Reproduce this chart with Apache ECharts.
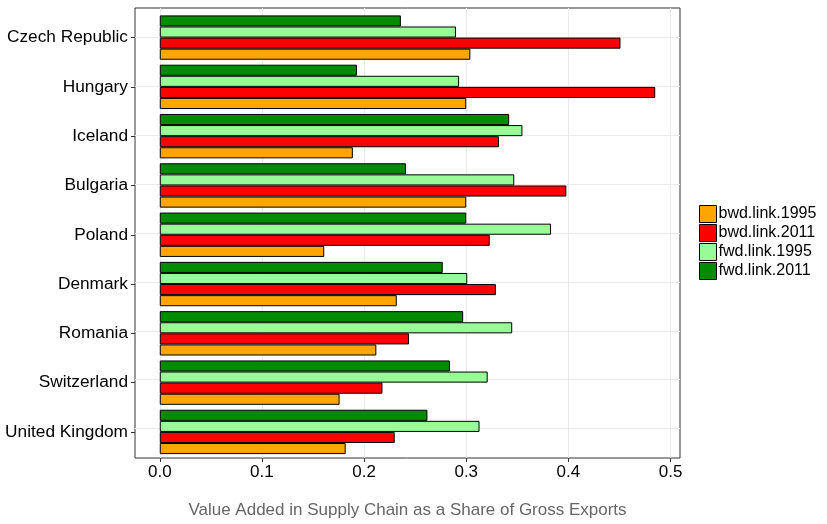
<!DOCTYPE html>
<html>
<head>
<meta charset="utf-8">
<script src="https://cdn.jsdelivr.net/npm/echarts@6/dist/echarts.min.js"></script>
<style>
html,body{margin:0;padding:0;background:#fff;}
#chart{width:827px;height:524px;}
</style>
</head>
<body>
<div id="chart"></div>
<script>
const categories = ['Czech Republic','Hungary','Iceland','Bulgaria','Poland','Denmark','Romania','Switzerland','United Kingdom'];
const bwd1995 = [0.304,0.300,0.189,0.300,0.161,0.232,0.212,0.176,0.182];
const bwd2011 = [0.451,0.485,0.332,0.398,0.323,0.329,0.244,0.218,0.230];
const fwd1995 = [0.290,0.293,0.355,0.347,0.383,0.301,0.345,0.321,0.313];
const fwd2011 = [0.236,0.193,0.342,0.241,0.300,0.277,0.297,0.284,0.262];
const seriesNames = ['bwd.link.1995','bwd.link.2011','fwd.link.1995','fwd.link.2011'];
const xTicks = [0,0.1,0.2,0.3,0.4,0.5];
const xTitle = 'Value Added in Supply Chain as a Share of Gross Exports';

const colors = {'bwd.link.1995':'#FFA500','bwd.link.2011':'#FF0000','fwd.link.1995':'#98FB98','fwd.link.2011':'#008B00'};
const seriesData = {'bwd.link.1995':bwd1995,'bwd.link.2011':bwd2011,'fwd.link.1995':fwd1995,'fwd.link.2011':fwd2011};

const allVals = bwd1995.concat(bwd2011, fwd1995, fwd2011);
const dmax = Math.max.apply(null, allVals);
const xmin = -0.05 * dmax, xmax = dmax * 1.05;
const nCat = categories.length;
const yCenters = categories.map((c,i)=> i + 0.6);

const panel = {left:135, right:147, top:8, bottom:62.5};
const plotH = 524 - panel.top - panel.bottom;
const band = plotH / (nCat + 0.2);

const chart = echarts.init(document.getElementById('chart'));
const font = 'Liberation Sans, Arial, sans-serif';

// drawn top-to-bottom within each group: fwd.2011, fwd.1995, bwd.2011, bwd.1995
const drawOrder = seriesNames.slice().reverse();
const series = drawOrder.map(n => ({
  name: n,
  type: 'bar',
  xAxisIndex: 1,
  yAxisIndex: 1,
  data: seriesData[n],
  barWidth: '22.5%',
  barGap: '0%',
  itemStyle: {color: colors[n], borderColor: '#000', borderWidth: 1},
  emphasis: {disabled: true},
  animation: false
}));

chart.setOption({
  animation: false,
  textStyle: {fontFamily: font},
  grid: [
    {left: panel.left, right: panel.right, top: panel.top, bottom: panel.bottom, show: true, borderColor: '#333', borderWidth: 1, backgroundColor: '#fff', containLabel: false},
    {left: panel.left, right: panel.right, top: panel.top + 0.1*band, bottom: panel.bottom + 0.1*band, containLabel: false}
  ],
  xAxis: [
    {type: 'value', gridIndex: 0, min: xmin, max: xmax,
     axisLine: {show: false, onZero: false},
     axisTick: {show: true, customValues: xTicks, length: 4, lineStyle: {color: '#333'}},
     axisLabel: {show: true, customValues: xTicks, margin: 5.5, color: '#000', fontSize: 17, fontFamily: font,
                 formatter: v => v.toFixed(1)},
     splitLine: {show: true, lineStyle: {color: '#EBEBEB', width: 1}},
     name: xTitle, nameLocation: 'middle', nameGap: 44,
     nameTextStyle: {color: '#666', fontSize: 17, fontFamily: font}},
    {type: 'value', gridIndex: 1, min: xmin, max: xmax, show: false}
  ],
  yAxis: [
    {type: 'value', gridIndex: 0, min: 0, max: nCat + 0.2,
     axisLine: {show: false, onZero: false},
     axisTick: {show: false, customValues: yCenters},
     axisLabel: {show: false, customValues: yCenters},
     splitLine: {show: true, lineStyle: {color: '#EBEBEB', width: 1}}},
    {type: 'category', gridIndex: 1, data: categories, inverse: true,
     axisLine: {show: false, onZero: false},
     axisTick: {show: true, alignWithLabel: true, length: 4, lineStyle: {color: '#333'}},
     axisLabel: {show: true, margin: 7, color: '#000', fontSize: 17.3, fontFamily: font},
     splitLine: {show: false}}
  ],
  legend: {
    data: seriesNames,
    orient: 'vertical',
    left: 699, top: 205,
    padding: 0,
    icon: 'rect',
    itemWidth: 17, itemHeight: 17, itemGap: 1,
    itemStyle: {borderWidth: 1, borderColor: '#000'},
    textStyle: {color: '#000', fontSize: 16, fontFamily: font, padding: [0,0,0,-3]},
    selectedMode: false
  },
  series: series
});
</script>
</body>
</html>
